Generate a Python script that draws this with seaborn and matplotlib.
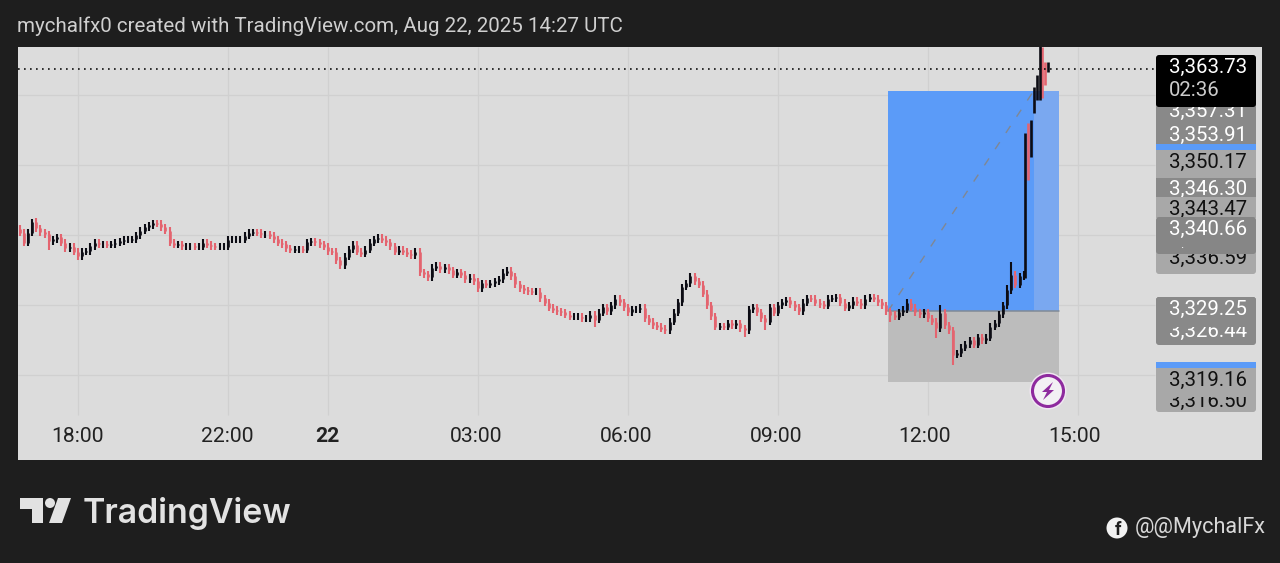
import numpy as np
import pandas as pd
import seaborn as sns
import matplotlib
matplotlib.use("Agg")
import matplotlib.pyplot as plt
from matplotlib.patches import Rectangle, FancyBboxPatch, Circle, Polygon

sns.set_theme(style="white")
plt.rcParams['font.family'] = ['Roboto', 'DejaVu Sans']

# ---------- data ----------
closes = [
3340.3,3338.9,3340.3,3341.9,3341.0,3340.4,3340.1,3339.1,3339.4,3339.7,
3338.9,3338.1,3338.3,3337.6,3337.0,3337.6,3337.7,3338.4,3338.9,3338.7,
3338.7,3338.6,3338.7,3338.9,3339.1,3339.3,3339.3,3339.4,3340.0,3340.6,
3341.1,3341.4,3341.7,3341.6,3341.1,3340.6,3338.9,3338.6,3338.7,3338.4,
3338.4,3338.4,3338.3,3338.3,3338.9,3338.6,3338.4,3338.3,3338.3,3338.3,
3339.3,3339.3,3339.3,3339.3,3339.9,3340.3,3340.4,3340.3,3340.1,3340.1,
3339.9,3339.4,3338.9,3338.7,3338.1,3337.9,3338.0,3338.0,3337.9,3339.0,
3339.1,3339.0,3338.7,3338.3,3337.7,3337.6,3336.4,3335.7,3336.9,3338.0,
3338.6,3337.6,3337.3,3337.9,3338.9,3339.4,3339.6,3339.3,3339.0,3338.4,
3337.6,3337.9,3337.6,3337.3,3337.1,3337.6,3334.7,3334.4,3334.0,3335.3,
3335.6,3335.1,3335.4,3335.0,3334.3,3334.7,3334.3,3333.7,3333.9,3333.4,
3332.4,3333.1,3332.9,3333.1,3333.4,3333.7,3334.6,3334.9,3334.1,3333.0,
3332.4,3332.1,3332.0,3331.9,3331.9,3331.0,3330.3,3329.6,3329.3,3329.1,
3329.0,3328.6,3328.3,3328.3,3328.3,3328.1,3328.1,3328.6,3327.9,3328.9,
3329.7,3329.1,3330.0,3330.9,3330.4,3329.7,3329.0,3329.4,3329.4,3329.6,
3328.1,3327.6,3327.1,3326.9,3326.6,3326.4,3327.6,3328.9,3330.4,3332.6,
3333.1,3334.1,3333.4,3332.9,3331.6,3330.0,3328.4,3326.9,3327.0,3326.9,
3327.4,3327.1,3327.4,3326.7,3326.4,3329.4,3329.7,3329.0,3328.1,3327.6,
3329.7,3328.9,3330.0,3330.4,3330.7,3330.1,3329.7,3329.1,3330.3,3331.0,
3330.9,3330.3,3330.1,3329.9,3330.9,3331.0,3331.1,3330.3,3329.6,3330.0,
3330.6,3330.3,3330.0,3330.9,3331.1,3330.9,3330.4,3330.0,3329.1,3328.6,
3328.3,3329.0,3329.3,3330.3,3329.6,3329.0,3328.7,3329.0,3328.1,3327.6,
3326.7,3328.9,3327.1,3326.4,3322.9,3323.1,3323.9,3324.4,3325.0,3324.3,
3325.4,3325.0,3325.3,3326.9,3327.4,3328.7,3330.0,3332.1,3334.3,3332.9,
3334.1,3334.4]
first_open = 3340.9
first_minute = -70      # minutes of trading time after 18:00
bar_minutes_step = 5
long_highs = {3: 3342.3, 159: 3333.0, 161: 3334.6, 221: 3330.0, 238: 3336.1, 237: 3332.9}
long_lows = {7: 3337.9, 138: 3326.9, 174: 3325.4, 179: 3326.4, 220: 3325.3, 224: 3321.4, 209: 3327.6}
typical_wick = 0.5

tail_minutes = [1137, 1140, 1144, 1147, 1151, 1154, 1157, 1160, 1164]
tail_opens   = [3333.9, 3356.0, 3351.1, 3357.4, 3359.3, 3359.3, 3366.9, 3364.7, 3363.3]
tail_closes  = [3354.6, 3347.9, 3356.4, 3361.1, 3362.9, 3367.1, 3359.6, 3361.4, 3364.7]

tick_minutes = [0, 180, 300, 480, 660, 840, 1020, 1200]
tick_px = [78, 227, 327, 476, 626, 776, 925, 1075]
tick_labels = ['18:00', '22:00', '22', '03:00', '06:00', '09:00', '12:00', '15:00']
grid_prices = [3320, 3330, 3340, 3350, 3360]
last_price = 3363.73
entry_price, target_price, stop_price = 3329.1, 3360.6, 3319.0
pos_start, pos_now, pos_end = 972, 1147, 1177
title = 'mychalfx0 created with TradingView.com, Aug 22, 2025 14:27 UTC'

# ---------- build ----------
opens = [first_open] + closes[:-1]
rows_w, rows_b = [], []
for i, (o, c) in enumerate(zip(opens, closes)):
    m = first_minute + i * bar_minutes_step
    d = 'up' if c >= o else 'down'
    hi = long_highs.get(i, max(o, c) + typical_wick)
    lo = long_lows.get(i, min(o, c) - typical_wick)
    rows_w += [(i, m, lo, d), (i, m, hi, d)]
    rows_b += [(i, m, o, d), (i, m, c, d)]
for j, (m, o, c) in enumerate(zip(tail_minutes, tail_opens, tail_closes)):
    d = 'up' if c >= o else 'down'
    rows_b += [(1000 + j, m, o, d), (1000 + j, m, c, d)]
wicks = pd.DataFrame(rows_w, columns=['bar', 'minute', 'price', 'dir'])
bodies = pd.DataFrame(rows_b, columns=['bar', 'minute', 'price', 'dir'])
palette = {'up': '#0c0c14', 'down': '#e4646f'}

W, H = 1280, 563
fig = plt.figure(figsize=(W / 100, H / 100), dpi=100, facecolor='#1e1e1e')
ax = fig.add_axes([18 / W, 1 - 460 / H, (1262 - 18) / W, (460 - 47) / H], facecolor='#dcdcdc', zorder=1)
ax.set_xlim(-72, 1421)
ax.set_ylim(3307.86, 3366.86)
for s in ax.spines.values():
    s.set_visible(False)

ymin_grid = 3314.3
xmax_grid = 1292
ax.vlines(tick_minutes, ymin_grid, 3366.86, color='#d0d0d0', lw=0.9, zorder=1)
ax.hlines(grid_prices, -72, xmax_grid, color='#d0d0d0', lw=0.9, zorder=1)

ax.add_patch(Rectangle((pos_start, entry_price), pos_end - pos_start, target_price - entry_price,
                       fc='#5b9bf8', ec='none', zorder=2))
ax.add_patch(Rectangle((pos_now, entry_price), pos_end - pos_now, target_price - entry_price,
                       fc='#7aa8f0', ec='none', zorder=2))
ax.add_patch(Rectangle((pos_start, stop_price), pos_end - pos_start, entry_price - stop_price,
                       fc='#bcbcbc', ec='none', zorder=2))
ax.plot([pos_start, pos_end], [entry_price, entry_price], color='#808a96', lw=1.1, zorder=3)
ax.plot([pos_start, pos_now], [entry_price, target_price], color='#7f8794', lw=1.0,
        dashes=(6, 8), zorder=3)

sns.lineplot(data=wicks, x='minute', y='price', units='bar', hue='dir', estimator=None, sort=False,
             palette=palette, lw=1.5, legend=False, ax=ax, zorder=4, solid_capstyle='butt')
sns.lineplot(data=bodies, x='minute', y='price', units='bar', hue='dir', estimator=None, sort=False,
             palette=palette, lw=1.9, legend=False, ax=ax, zorder=5, solid_capstyle='butt')
ax.plot([-72, xmax_grid], [last_price, last_price], color='#111111', lw=1.2, dashes=(1, 2.6), zorder=6)

ax.set_xlabel('')
ax.set_ylabel('')
ax.set_xticks([])
ax.set_yticks([])

# overlay in figure pixels
ov = fig.add_axes([0, 0, 1, 1], zorder=2)
ov.set_xlim(0, W)
ov.set_ylim(H, 0)
ov.axis('off')
ov.patch.set_alpha(0)

ov.text(17, 26, title, color='#cfcfcf', fontsize=14.75, va='center', ha='left')
for px, lab in zip(tick_px, tick_labels):
    ov.text(px, 437, lab, color='#222222', fontsize=15.2, ha='center', va='center',
            fontweight='bold' if lab == '22' else 'normal')

DARK, LIGHT, BLUE = '#898989', '#a8a8a8', '#5b9bf8'
FS = 14.7
z = [10]
def nz():
    z[0] += 1
    return z[0]
def box(y0, y1, c, rounded=False, x0=1156, x1=1256):
    if rounded:
        ov.add_patch(FancyBboxPatch((x0 + 2, y0 + 2), x1 - x0 - 4, y1 - y0 - 4,
                                    boxstyle='round,pad=2,rounding_size=3', fc=c, ec='none', zorder=nz()))
    else:
        ov.add_patch(Rectangle((x0, y0), x1 - x0, y1 - y0, fc=c, ec='none', zorder=nz()))
def label(y, s, c):
    ov.text(1208, y, s, color=c, fontsize=FS, ha='center', va='center', zorder=nz())

# stacked price labels, later ones hide earlier ones
box(100, 146, DARK); label(111, '3,357.31', 'white'); label(135, '3,353.91', 'white')
box(144, 150, BLUE)
box(150, 180, LIGHT); label(162, '3,350.17', '#111111')
box(178, 198, DARK); label(189, '3,346.30', 'white')
box(197, 218, LIGHT); label(209, '3,343.47', '#111111')
box(240, 274, LIGHT, rounded=True); label(258, '3,336.59', '#111111')
box(217, 254, '#868686', rounded=True); label(229, '3,340.66', 'white')
ov.text(1182, 245, '.', color='white', fontsize=9, ha='center', va='center', zorder=nz())
box(297, 345, DARK, rounded=True); label(331, '3,326.44', 'white')
box(297, 327, DARK, rounded=True); label(309, '3,329.25', 'white')
box(362, 412, LIGHT, rounded=True); label(401, '3,316.50', '#111111')
box(362, 397, LIGHT, rounded=True); label(380, '3,319.16', '#111111')
box(362, 368, BLUE)
box(55, 107, '#000000', rounded=True)
label(67, '3,363.73', 'white')
ov.text(1169, 91, '02:36', color='#cccccc', fontsize=FS, ha='left', va='center', zorder=nz())

# alert badge
ov.add_patch(Circle((1048, 391), 18.5, fc='#f0e6f2', ec='none', zorder=3))
ov.add_patch(Circle((1048, 391), 15.5, fc='#f3f0f4', ec='#8e2a9e', lw=2.2, zorder=4))
ov.add_patch(Polygon([(1053, 382), (1042, 392), (1047, 392), (1043, 400), (1054, 390), (1049, 390)],
                     fc='#8e2a9e', ec='none', zorder=5))

# logo
LOGO = '#e2e2e2'
ov.add_patch(Polygon([(20, 498), (43, 498), (43, 523), (32, 523), (32, 509), (20, 509)], fc=LOGO, ec='none'))
ov.add_patch(Circle((50, 503), 5, fc=LOGO, ec='none'))
ov.add_patch(Polygon([(58, 498), (71, 498), (62, 523), (49, 523)], fc=LOGO, ec='none'))
ov.text(83, 513, 'TradingView', color=LOGO, fontsize=24.4, fontfamily='Inter', fontweight='semibold',
        ha='left', va='center')

# social
ov.add_patch(Circle((1117, 528), 10.5, fc='#f2f2f2', ec='none'))
ov.text(1118, 530, 'f', color='#1e1e1e', fontsize=13, fontweight='bold', ha='center', va='center')
ov.text(1135, 528, '@@MychalFx', color='#d8d8d8', fontsize=15.6, ha='left', va='center')

fig.savefig('out.png', dpi=100, facecolor=fig.get_facecolor())
